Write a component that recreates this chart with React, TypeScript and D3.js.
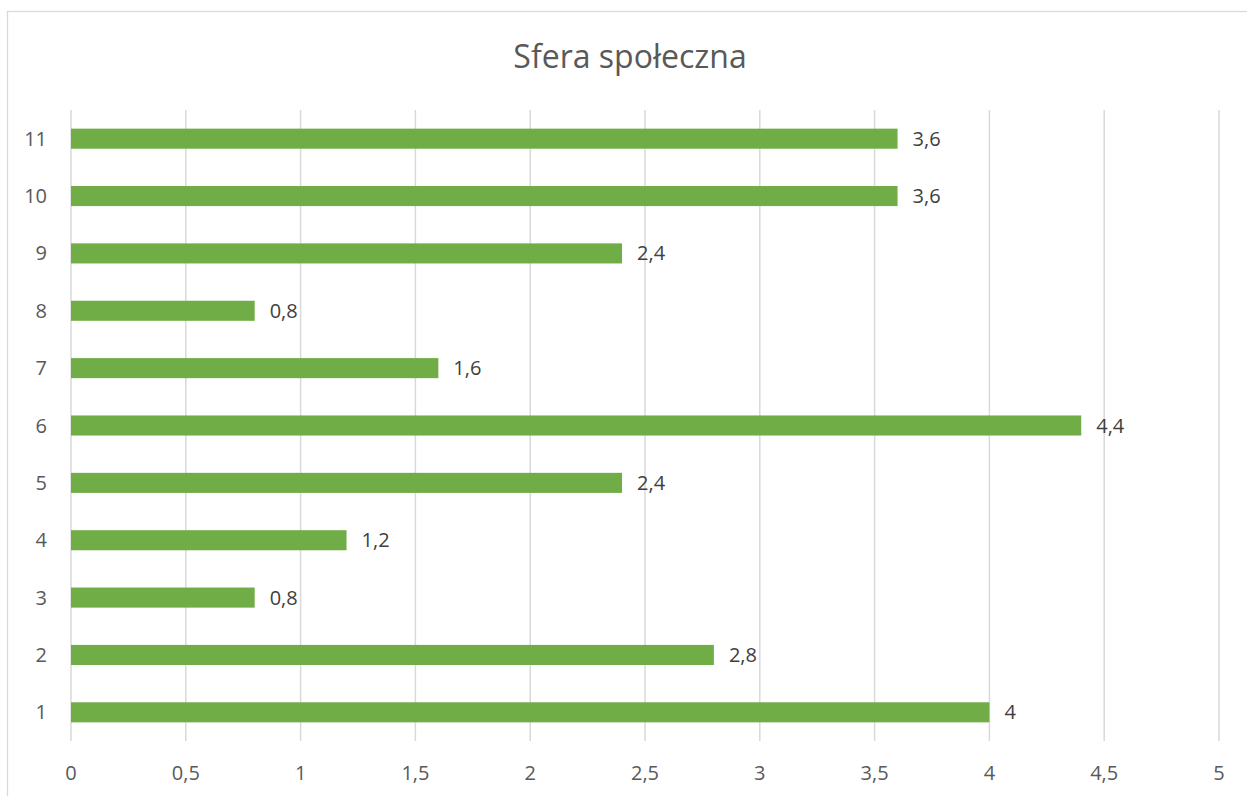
import * as d3 from 'd3'
import React, { useRef, useEffect } from 'react'

const categories = ['1', '2', '3', '4', '5', '6', '7', '8', '9', '10', '11']
const values = [4, 2.8, 0.8, 1.2, 2.4, 4.4, 1.6, 0.8, 2.4, 3.6, 3.6]
const xTicks = [0, 0.5, 1, 1.5, 2, 2.5, 3, 3.5, 4, 4.5, 5]
const title = 'Sfera społeczna'

const W = 1247
const H = 796
const font = "'Open Sans', 'Noto Sans', sans-serif"
const fmt = (v: number) => String(v).replace('.', ',')

const App = () => {
  const myRef = useRef<SVGSVGElement>(null)

  useEffect(() => {
    const svg = d3.select(myRef.current)
    svg.selectAll('*').remove()

    const plot = { left: 71, right: 1219, top: 110, bottom: 741 }

    const x = d3.scaleLinear().domain([0, 5]).range([plot.left, plot.right])
    const y = d3.scaleBand()
      .domain(categories.slice().reverse())
      .range([plot.top, plot.bottom])
      .paddingInner(0.65)
      .paddingOuter(0.325)

    // chart border
    svg.append('rect')
      .attr('x', 7.5).attr('y', 11.5)
      .attr('width', W + 20).attr('height', H + 20)
      .attr('fill', 'white')
      .attr('stroke', '#d9d9d9')
      .attr('stroke-width', 1.3)

    svg.append('text')
      .attr('x', 630).attr('y', 68)
      .attr('text-anchor', 'middle')
      .style('font-family', font)
      .style('font-size', '32px')
      .attr('fill', '#595959')
      .text(title)

    // gridlines
    svg.append('g').selectAll('line')
      .data(xTicks)
      .enter().append('line')
      .attr('x1', d => x(d)).attr('x2', d => x(d))
      .attr('y1', plot.top).attr('y2', plot.bottom)
      .attr('stroke', '#d9d9d9')
      .attr('stroke-width', 1.5)

    // x tick labels
    svg.append('g').selectAll('text')
      .data(xTicks)
      .enter().append('text')
      .attr('x', d => x(d)).attr('y', 780)
      .attr('text-anchor', 'middle')
      .style('font-family', font)
      .style('font-size', '20px')
      .attr('fill', '#595959')
      .text(d => fmt(d))

    // category labels
    svg.append('g').selectAll('text')
      .data(categories)
      .enter().append('text')
      .attr('x', 47)
      .attr('y', d => (y(d) as number) + y.bandwidth() / 2)
      .attr('dy', '0.35em')
      .attr('text-anchor', 'end')
      .style('font-family', font)
      .style('font-size', '20px')
      .attr('fill', '#595959')
      .text(d => d)

    const rows = categories.map((c, i) => ({ c, v: values[i] }))

    svg.append('g').selectAll('rect')
      .data(rows)
      .enter().append('rect')
      .attr('x', x(0))
      .attr('y', d => y(d.c) as number)
      .attr('width', d => x(d.v) - x(0))
      .attr('height', y.bandwidth())
      .attr('fill', '#70ad47')

    svg.append('g').selectAll('text')
      .data(rows)
      .enter().append('text')
      .attr('x', d => x(d.v) + 15)
      .attr('y', d => (y(d.c) as number) + y.bandwidth() / 2)
      .attr('dy', '0.35em')
      .style('font-family', font)
      .style('font-size', '20px')
      .attr('fill', '#404040')
      .text(d => fmt(d.v))
  }, [])

  return (
    <svg ref={myRef} width={W} height={H}
      style={{ position: 'absolute', left: 0, top: 0, background: 'white' }} />
  )
}

export default App
